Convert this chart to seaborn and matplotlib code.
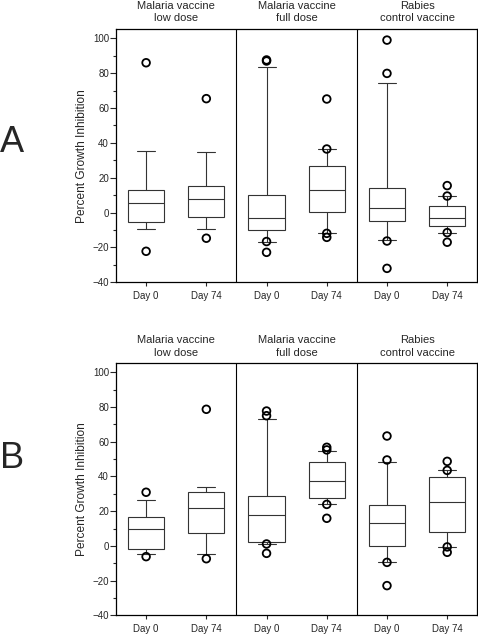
import numpy as np
import pandas as pd
import matplotlib
matplotlib.use("Agg")
import matplotlib.pyplot as plt
import matplotlib.transforms as mtransforms
from matplotlib.ticker import MultipleLocator
import seaborn as sns

# ---------------- data ----------------
groups_line1 = ["Malaria vaccine", "Malaria vaccine", "Rabies"]
groups_line2 = ["low dose", "full dose", "control vaccine"]
categories = ["LD Day 0", "LD Day 74", "FD Day 0", "FD Day 74", "RC Day 0", "RC Day 74"]
tick_labels = ["Day 0", "Day 74", "Day 0", "Day 74", "Day 0", "Day 74"]

# five-number summaries: whisker low, Q1, median, Q3, whisker high
A_whislo = [-9.2, -9.6, -17.0, -11.9, -15.9, -11.5]
A_q1 = [-5.6, -2.3, -10.2, 0.2, -5.0, -7.9]
A_med = [5.3, 7.6, -2.9, 12.8, 2.9, -3.3]
A_q3 = [12.8, 15.1, 10.3, 26.6, 14.1, 4.0]
A_whishi = [35.4, 34.8, 83.7, 36.5, 74.4, 9.5]
A_outliers = [
    [86.0, -22.2],
    [65.4, -14.7],
    [87.6, 87.0, -16.6, -22.8],
    [65.2, 36.5, -11.9, -14.2],
    [99.0, 79.9, -16.3, -32.0],
    [15.5, 9.5, -11.5, -17.0],
]

B_whislo = [-4.9, -4.9, 1.1, 23.9, -9.5, -0.6]
B_q1 = [-2.0, 7.2, 2.4, 27.6, -0.1, 8.0]
B_med = [9.7, 21.8, 17.6, 37.2, 13.2, 25.1]
B_q3 = [16.5, 30.9, 28.7, 48.1, 23.4, 39.9]
B_whishi = [26.3, 33.9, 72.9, 54.9, 48.1, 43.5]
B_outliers = [
    [30.9, -6.2],
    [78.7, -7.4],
    [77.7, 75.0, 1.1, -4.3],
    [56.8, 55.3, 23.9, 15.9],
    [63.3, 49.5, -9.5, -22.9],
    [48.7, 43.5, -0.6, -3.7],
]

panel_labels = ["A", "B"]
y_ticks = [-40, -20, 0, 20, 40, 60, 80, 100]
y_label = "Percent Growth Inhibition"

# ---------------- style ----------------
sns.set_style("ticks")
plt.rcParams["font.family"] = ["Liberation Sans", "DejaVu Sans"]

W, H = 478, 635
fig = plt.figure(figsize=(W / 100, H / 100), dpi=100)

left_px, right_px = 116, 477.3


def make_axes(top_px, bottom_px):
    return fig.add_axes([left_px / W, (H - bottom_px) / H,
                         (right_px - left_px) / W, (bottom_px - top_px) / H])


def draw_panel(ax, wl, q1, med, q3, wh, outl, letter, letter_y, off1, off2):
    # five-number data so the box quartiles fall exactly on these values
    rows = []
    for c, a, b, m, d, e in zip(categories, wl, q1, med, q3, wh):
        for v in (a, b, m, d, e):
            rows.append({"cat": c, "val": v})
    df = pd.DataFrame(rows)
    sns.boxplot(data=df, x="cat", y="val", order=categories, whis=(0, 100),
                width=0.6, color="white", linecolor="#333333", linewidth=0.8,
                showfliers=False, saturation=1, ax=ax)
    orow = []
    for c, vals in zip(categories, outl):
        for v in vals:
            orow.append({"cat": c, "val": v})
    odf = pd.DataFrame(orow)
    sns.stripplot(data=odf, x="cat", y="val", order=categories, jitter=False,
                  marker="o", size=5.5, color="none", edgecolor="black",
                  linewidth=1.3, ax=ax, zorder=5)
    ax.set_xlim(-0.5, 5.5)
    ax.set_ylim(-40, 105.2)
    ax.set_yticks(y_ticks)
    ax.yaxis.set_minor_locator(MultipleLocator(10))
    ax.set_xticks(range(len(categories)))
    ax.set_xticklabels(tick_labels, fontsize=7)
    ax.tick_params(axis="y", labelsize=7, length=4, width=0.8, pad=1)
    ax.tick_params(axis="y", which="minor", length=2.5, width=0.8)
    ax.tick_params(axis="x", length=3, width=0.8, pad=3)
    ax.set_xlabel("")
    ax.set_ylabel(y_label, fontsize=8.6, labelpad=3)
    for s in ax.spines.values():
        s.set_visible(True)
        s.set_linewidth(0.9)
        s.set_color("black")
    for xv in (1.5, 3.5):
        ax.axvline(xv, color="black", linewidth=0.8)
    trans = mtransforms.blended_transform_factory(ax.transData, ax.transAxes)
    for i in range(3):
        ax.annotate(groups_line1[i], xy=(2 * i + 0.5, 1.0), xycoords=trans,
                    xytext=(0, off1 * 0.72), textcoords="offset points",
                    ha="center", va="center", fontsize=8, annotation_clip=False)
        ax.annotate(groups_line2[i], xy=(2 * i + 0.5, 1.0), xycoords=trans,
                    xytext=(0, off2 * 0.72), textcoords="offset points",
                    ha="center", va="center", fontsize=8, annotation_clip=False)
    fig.text(12 / W, (H - letter_y) / H, letter, fontsize=26, ha="center", va="center")


axA = make_axes(29.3, 282.3)
draw_panel(axA, A_whislo, A_q1, A_med, A_q3, A_whishi, A_outliers, panel_labels[0], 143, 23.6, 11.0)
axB = make_axes(363.3, 615.3)
draw_panel(axB, B_whislo, B_q1, B_med, B_q3, B_whishi, B_outliers, panel_labels[1], 459, 23.3, 10.0)

fig.savefig("out.png", dpi=100, facecolor="white")
